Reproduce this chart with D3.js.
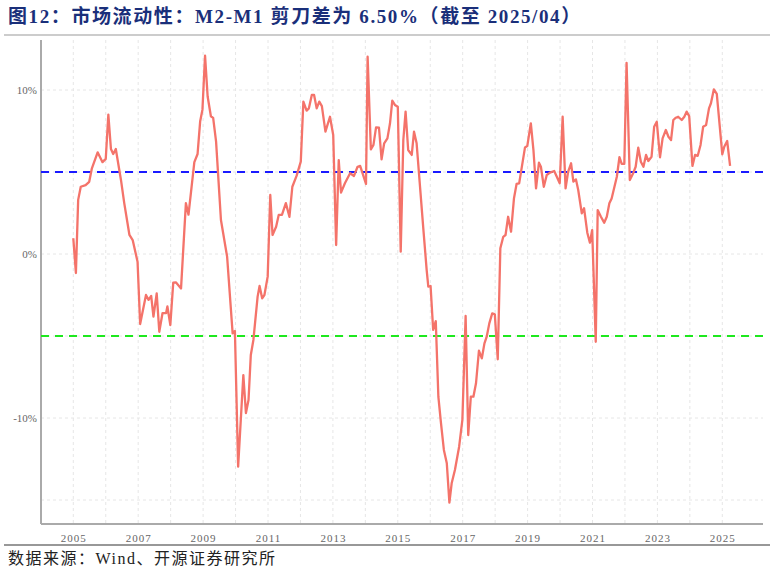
<!DOCTYPE html>
<meta charset="utf-8">
<script src="https://d3js.org/d3.v7.min.js"></script>
<style>
  body { margin: 0; background: #fff; }
  text { font-family: "Liberation Serif", "Noto Sans CJK SC", serif; }
</style>
<div id="chart"></div>
<script>
  // decimal year of each reading and M2-M1 gap (%)
  var years = [2005.0,2005.08,2005.15,2005.23,2005.38,2005.49,2005.57,2005.75,2005.9,2006.0,2006.08,2006.16,2006.23,2006.31,2006.47,2006.57,2006.73,2006.83,2006.98,
    2007.06,2007.24,2007.32,2007.4,2007.47,2007.57,2007.65,2007.75,2007.86,2007.9,2007.99,2008.08,2008.16,2008.32,2008.47,2008.55,2008.73,2008.83,2008.91,2008.98,
    2009.06,2009.14,2009.24,2009.31,2009.4,2009.55,2009.74,2009.91,2009.98,2010.08,2010.24,2010.32,2010.4,2010.47,2010.55,2010.68,2010.74,2010.82,2010.89,2010.99,
    2011.07,2011.14,2011.25,2011.33,2011.43,2011.55,2011.66,2011.75,2011.88,2012.01,2012.09,2012.19,2012.26,2012.35,2012.42,2012.5,2012.58,2012.66,2012.77,2012.91,
    2013.01,2013.1,2013.18,2013.25,2013.37,2013.53,2013.65,2013.76,2013.84,2014.02,2014.07,2014.17,2014.25,2014.33,2014.42,2014.5,2014.58,2014.68,2014.76,2014.83,2014.91,
    2015.0,2015.09,2015.17,2015.24,2015.32,2015.43,2015.5,2015.58,2015.79,2015.89,2015.94,2016.01,2016.09,2016.17,2016.25,2016.33,2016.42,2016.51,2016.59,2016.66,2016.76,2016.89,
    2016.99,2017.09,2017.17,2017.25,2017.33,2017.41,2017.5,2017.59,2017.67,2017.74,2017.82,2017.91,2017.99,2018.08,2018.16,2018.25,2018.32,2018.4,2018.49,2018.58,2018.66,2018.74,
    2018.92,2018.99,2019.1,2019.18,2019.26,2019.35,2019.41,2019.5,2019.59,2019.69,2019.82,2019.99,2020.08,2020.17,2020.25,2020.34,2020.41,2020.49,2020.56,2020.67,2020.74,2020.84,
    2020.92,2020.99,2021.1,2021.16,2021.26,2021.36,2021.44,2021.52,2021.59,2021.75,2021.83,2021.9,2021.98,2022.05,2022.15,2022.26,2022.33,2022.41,2022.49,2022.57,2022.65,2022.72,
    2022.82,2022.9,2022.98,2023.08,2023.16,2023.26,2023.34,2023.42,2023.49,2023.57,2023.64,2023.75,2023.83,2023.9,2023.98,2024.08,2024.16,2024.24,2024.33,2024.41,2024.5,2024.59,
    2024.65,2024.74,2024.83,2025.0,2025.06,2025.15,2025.24];
  var gap = [0.96,-1.16,3.3,4.1,4.2,4.4,5.2,6.2,5.6,5.8,8.5,6.4,6.1,6.4,4.5,3.1,1.16,0.85,-0.47,
    -4.27,-2.5,-2.8,-2.56,-3.82,-2.4,-4.74,-3.6,-3.6,-3.2,-4.33,-1.75,-1.73,-2.1,3.1,2.4,5.6,6.1,8.1,8.8,
    12.1,9.6,8.4,8.3,6.85,2.07,-0.16,-4.84,-4.7,-12.97,-7.38,-9.7,-8.9,-6.16,-5.24,-2.6,-1.95,-2.7,-2.5,-1.38,
    3.6,1.16,1.66,2.38,2.38,3.1,2.27,4.1,4.76,5.63,9.29,8.74,8.88,9.7,9.7,8.88,9.29,9.02,7.46,8.37,
    7.26,0.55,5.73,3.74,4.31,4.92,4.76,5.32,5.37,4.27,12.03,6.38,6.65,7.72,7.7,5.77,6.75,7.05,7.97,9.35,9.09,
    8.98,0.14,6.95,8.68,6.34,6.04,7.46,6.75,1.46,-0.98,-1.99,-1.95,-4.63,-4.09,-8.7,-10.3,-11.95,-12.76,-15.16,-13.98,-13.17,-11.75,
    -10.12,-3.78,-11.04,-8.7,-8.7,-7.88,-5.9,-6.36,-5.45,-5.04,-4.23,-3.62,-3.68,-6.42,0.35,1.05,1.16,2.27,1.36,3.39,4.27,4.31,
    6.5,6.58,7.97,6.34,4.0,5.57,5.32,4.1,4.82,4.96,5.06,4.31,8.37,4.0,5.02,5.53,4.41,4.55,3.9,2.48,2.79,1.3,
    0.69,1.46,-5.35,2.68,2.27,1.91,2.27,3.09,3.39,4.71,5.9,5.49,5.49,11.66,4.51,4.96,5.32,6.48,5.63,5.32,6.04,5.67,
    5.93,7.76,8.07,5.9,7.05,7.56,7.15,6.95,8.17,8.31,8.37,8.17,8.37,8.68,8.41,5.37,6.04,5.98,6.65,7.76,7.87,8.88,
    9.19,10.04,9.76,6.08,6.54,6.89,5.38];
  var refLines = [5, -5];
  var refColors = ["#1a1aff", "#1ee81e"];
  var xTicks = [2005,2007,2009,2011,2013,2015,2017,2019,2021,2023,2025];
  var yTicks = [10, 0, -10];

  var W = 774, H = 571;
  var svg = d3.select("#chart").append("svg").attr("width", W).attr("height", H);

  // title + rules
  svg.append("text").attr("x", 8).attr("y", 23)
      .style("font-size", "19px").style("font-weight", "bold").style("letter-spacing", "1.6px")
      .attr("fill", "#1a2f7a")
      .text("图12：市场流动性：M2-M1 剪刀差为 6.50%（截至 2025/04）");
  svg.append("line").attr("x1", 4).attr("x2", 770).attr("y1", 35).attr("y2", 35)
      .attr("stroke", "#999").attr("stroke-width", 1);
  svg.append("line").attr("x1", 4).attr("x2", 770).attr("y1", 545).attr("y2", 545)
      .attr("stroke", "#333").attr("stroke-width", 1.2);
  svg.append("text").attr("x", 8).attr("y", 564)
      .style("font-size", "16px").style("letter-spacing", "1.5px").attr("fill", "#222")
      .text("数据来源：Wind、开源证券研究所");

  var left = 41, right = 763, bottom = 524;
  var x = d3.scaleLinear().domain([2005, 2025]).range([73.3, 722.3]);
  var y = d3.scaleLinear().domain([0, 10]).range([254, 90]);

  // grid
  var g = svg.append("g");
  g.selectAll(".vg").data(d3.range(2005, 2026)).enter().append("line")
      .attr("x1", d => x(d)).attr("x2", d => x(d)).attr("y1", 40).attr("y2", bottom)
      .attr("stroke", "#e6e6e6").attr("stroke-dasharray", "3,3");
  g.selectAll(".hg").data([10, 5, 0, -5, -10, -15]).enter().append("line")
      .attr("x1", left).attr("x2", right).attr("y1", d => y(d)).attr("y2", d => y(d))
      .attr("stroke", "#e6e6e6").attr("stroke-dasharray", "3,3");

  // axes
  svg.append("g").attr("transform", "translate(0," + bottom + ")")
      .call(d3.axisBottom(x).tickValues(xTicks).tickFormat(d3.format("d")).tickSize(0).tickPadding(10))
      .call(a => a.select(".domain").attr("stroke", "#aaa").attr("stroke-width", 2).attr("d", "M" + left + ",0H" + right))
      .selectAll("text").style("font-size", "11px").attr("fill", "#666").style("letter-spacing", "1px");
  svg.append("g").attr("transform", "translate(" + left + ",0)")
      .call(d3.axisLeft(y).tickValues(yTicks).tickFormat(d => d + "%").tickSize(0).tickPadding(4))
      .call(a => a.select(".domain").attr("stroke", "#aaa").attr("stroke-width", 2).attr("d", "M0,40V" + bottom))
      .selectAll("text").style("font-size", "11px").attr("fill", "#666");

  // reference lines
  svg.selectAll(".ref").data(refLines).enter().append("line")
      .attr("x1", left).attr("x2", right).attr("y1", d => y(d)).attr("y2", d => y(d))
      .attr("stroke", (d, i) => refColors[i]).attr("stroke-width", 2.2).attr("stroke-dasharray", "8,6");

  // series
  var pts = years.map((d, i) => [d, gap[i]]);
  svg.append("path").datum(pts)
      .attr("d", d3.line().x(d => x(d[0])).y(d => y(d[1])))
      .attr("fill", "none").attr("stroke", "#f4736a").attr("stroke-width", 2.3)
      .attr("stroke-linejoin", "round");
</script>
